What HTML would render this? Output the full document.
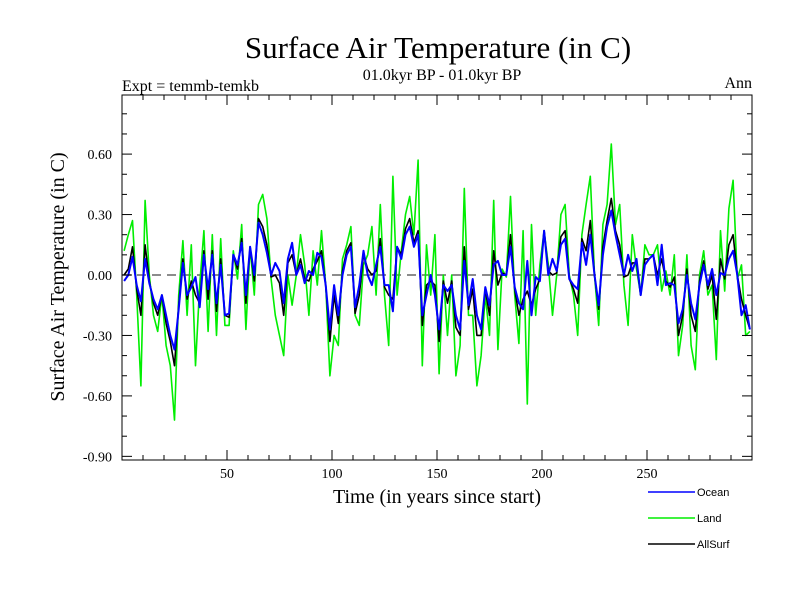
<!DOCTYPE html>
<html><head><meta charset="utf-8"><style>
body{margin:0;background:#fff;}
svg{display:block;font-family:"Liberation Serif",serif;}
</style></head><body>
<svg id="c" width="800" height="600">
<rect x="0" y="0" width="800" height="600" fill="#fff"/>
<text x="438" y="58" font-size="31" text-anchor="middle">Surface Air Temperature (in C)</text>
<text x="442" y="80" font-size="16" text-anchor="middle">01.0kyr BP - 01.0kyr BP</text>
<text x="122" y="91" font-size="16">Expt = temmb-temkb</text>
<text x="752" y="88" font-size="16" text-anchor="end">Ann</text>
<text transform="translate(64,277) rotate(-90)" font-size="20" text-anchor="middle">Surface Air Temperature (in C)</text>
<text x="437" y="503" font-size="20" text-anchor="middle">Time (in years since start)</text>
<g id="plot"></g>
<g id="legend" font-family="Liberation Sans, sans-serif" font-size="11"></g>
</svg>
<script>
const yTickVals=[0.6,0.3,0,-0.3,-0.6,-0.9];
const yTickLabels=["0.60","0.30","0.00","-0.30","-0.60","-0.90"];
const xTickVals=[50,100,150,200,250];
const xTickLabels=["50","100","150","200","250"];
const years=[];for(let y=1;y<=299;y+=2)years.push(y);
const ocean=[-0.03,0.0,0.09,-0.05,-0.13,0.08,-0.04,-0.12,-0.17,-0.1,-0.2,-0.3,-0.37,-0.17,0.06,-0.1,-0.06,-0.01,-0.16,0.1,-0.07,0.1,-0.14,0.05,-0.2,
-0.19,0.1,0.05,0.16,-0.1,0.14,0.0,0.26,0.2,0.11,0.0,0.06,0.02,-0.14,0.08,0.16,0.0,0.05,-0.04,0.02,0.0,0.11,0.09,-0.05,-0.27,
-0.05,-0.2,0.0,0.1,0.14,-0.16,-0.05,0.12,0.0,-0.05,0.05,0.14,-0.05,-0.05,-0.18,0.14,0.08,0.2,0.24,0.14,0.2,-0.2,-0.1,0.0,-0.1,
-0.27,-0.05,-0.08,-0.05,-0.2,-0.27,0.07,-0.15,-0.02,-0.2,-0.27,-0.06,-0.15,0.05,0.07,0.0,0.0,0.14,-0.06,-0.14,-0.17,0.07,-0.2,-0.01,-0.03,
0.22,0.0,0.08,0.02,0.15,0.18,-0.02,-0.05,-0.07,0.16,0.05,0.2,0.0,-0.15,0.1,0.24,0.32,0.2,0.1,0.0,0.1,0.02,0.08,-0.1,0.05,
0.08,0.1,-0.05,0.15,-0.05,-0.04,-0.05,-0.24,-0.17,0.0,-0.14,-0.22,-0.05,0.05,-0.05,0.03,-0.1,0.01,0.0,0.08,0.12,0.0,-0.2,-0.15,-0.27];
const land=[0.12,0.2,0.27,-0.1,-0.55,0.37,0.0,-0.2,-0.28,-0.1,-0.35,-0.45,-0.72,-0.1,0.17,-0.2,0.15,-0.45,-0.05,0.22,-0.28,0.2,-0.3,0.18,-0.25,
-0.25,0.12,-0.02,0.25,-0.27,0.14,-0.1,0.35,0.4,0.28,-0.02,-0.2,-0.3,-0.4,0.0,-0.15,0.0,0.2,0.05,-0.2,0.12,-0.05,0.22,-0.05,-0.5,
-0.3,-0.35,0.08,0.15,0.24,-0.2,-0.25,0.05,0.1,0.24,-0.1,0.35,-0.1,-0.35,0.49,-0.1,0.12,0.3,0.39,0.2,0.57,-0.45,0.15,-0.1,0.2,
-0.49,0.0,-0.3,0.0,-0.5,-0.35,0.43,-0.2,-0.2,-0.55,-0.4,-0.1,-0.3,0.37,-0.37,0.03,-0.01,0.39,-0.1,-0.34,0.22,-0.64,0.25,-0.2,0.05,
0.22,0.05,-0.2,0.0,0.3,0.35,0.0,-0.1,-0.3,0.2,0.35,0.49,0.0,-0.25,0.25,0.35,0.65,0.25,0.35,-0.05,-0.25,0.2,0.03,-0.1,0.15,
0.1,0.1,0.15,-0.08,0.02,-0.1,0.1,-0.4,-0.25,0.1,-0.35,-0.47,0.0,0.12,-0.1,-0.05,-0.42,0.22,-0.08,0.33,0.47,-0.02,0.05,-0.3,-0.28];
const allSurf=[0.0,0.03,0.14,-0.07,-0.2,0.15,-0.03,-0.14,-0.2,-0.1,-0.24,-0.33,-0.45,-0.15,0.08,-0.12,-0.03,-0.1,-0.14,0.12,-0.12,0.12,-0.18,0.08,-0.2,
-0.21,0.1,0.03,0.18,-0.14,0.14,-0.03,0.28,0.24,0.15,-0.01,0.0,-0.04,-0.2,0.06,0.1,0.0,0.08,-0.02,-0.03,0.03,0.07,0.12,-0.05,-0.33,
-0.1,-0.24,0.02,0.12,0.16,-0.19,-0.1,0.1,0.03,0.0,0.02,0.18,-0.06,-0.1,-0.12,0.14,0.1,0.23,0.28,0.16,0.22,-0.25,-0.05,-0.03,-0.05,
-0.33,-0.03,-0.14,-0.03,-0.26,-0.3,0.14,-0.17,-0.07,-0.3,-0.3,-0.07,-0.2,0.12,-0.05,0.01,0.0,0.2,-0.07,-0.2,-0.12,-0.08,-0.15,-0.07,-0.02,
0.22,0.02,0.0,0.01,0.19,0.22,-0.02,-0.07,-0.14,0.18,0.12,0.27,0.0,-0.17,0.14,0.27,0.38,0.22,0.15,-0.01,0.0,0.06,0.06,-0.1,0.08,
0.08,0.1,0.0,0.08,-0.03,-0.06,-0.01,-0.3,-0.2,0.03,-0.2,-0.28,-0.03,0.07,-0.07,0.0,-0.22,0.08,-0.02,0.15,0.2,0.0,-0.12,-0.2,-0.27];

const NS="http://www.w3.org/2000/svg";
const L=122,R=752,T=95,B=460;
function xs(t){return 122+t*2.1;}
function ys(v){return 275-v*201.5;}
const plot=document.getElementById('plot');
function mk(tag,attrs,parent){const e=document.createElementNS(NS,tag);for(const k in attrs)e.setAttribute(k,attrs[k]);(parent||plot).appendChild(e);return e;}

function series(vals,color,w,name){
  let d='';
  for(let i=0;i<vals.length;i++){d+=(i?'L':'M')+xs(years[i]).toFixed(1)+','+ys(vals[i]).toFixed(1);}
  const p=mk('path',{d:d,fill:'none',stroke:color,'stroke-width':w,'stroke-linejoin':'round'});
  
  
}
// zero line
const z=mk('line',{x1:L,x2:R,y1:ys(0),y2:ys(0),stroke:'#666','stroke-width':1.5,'stroke-dasharray':'9,6'});


series(land,'#00ee00',1.6,'land-line');
series(allSurf,'#000',1.6,'allsurf-line');
series(ocean,'#0000ff',2,'ocean-line');

const box=mk('rect',{x:L,y:T,width:R-L,height:B-T,fill:'none',stroke:'#000','stroke-width':1});


// minor y ticks
for(let k=-9;k<=9;k++){const v=k/10;const y=ys(v);if(y<T||y>B)continue;const major=(k%3===0);const len=major?10:5;
  mk('line',{x1:L,x2:L+len,y1:y,y2:y,stroke:'#000','stroke-width':1});
  mk('line',{x1:R,x2:R-len,y1:y,y2:y,stroke:'#000','stroke-width':1});}
for(let t=10;t<300;t+=10){const x=xs(t);const major=(t%50===0);const len=major?10:5;
  mk('line',{x1:x,x2:x,y1:B,y2:B-len,stroke:'#000','stroke-width':1});
  mk('line',{x1:x,x2:x,y1:T,y2:T+len,stroke:'#000','stroke-width':1});}
yTickVals.forEach((v,i)=>{const t=mk('text',{x:112,y:ys(v)+5,'font-size':14,'text-anchor':'end'});t.textContent=yTickLabels[i];
  
  });
xTickVals.forEach((v,i)=>{const t=mk('text',{x:xs(v),y:478,'font-size':14,'text-anchor':'middle'});t.textContent=xTickLabels[i];
  
  });
// legend
const lg=document.getElementById('legend');
[["Ocean","#0000ff",492],["Land","#00ee00",518],["AllSurf","#000",544]].forEach(e=>{
  const g=mk('g',{},lg);
  
  
  mk('line',{x1:648,x2:695,y1:e[2],y2:e[2],stroke:e[1],'stroke-width':1.5},g);
  const t=mk('text',{x:697,y:e[2]+4},g);t.textContent=e[0];
});
</script>
</body></html>
